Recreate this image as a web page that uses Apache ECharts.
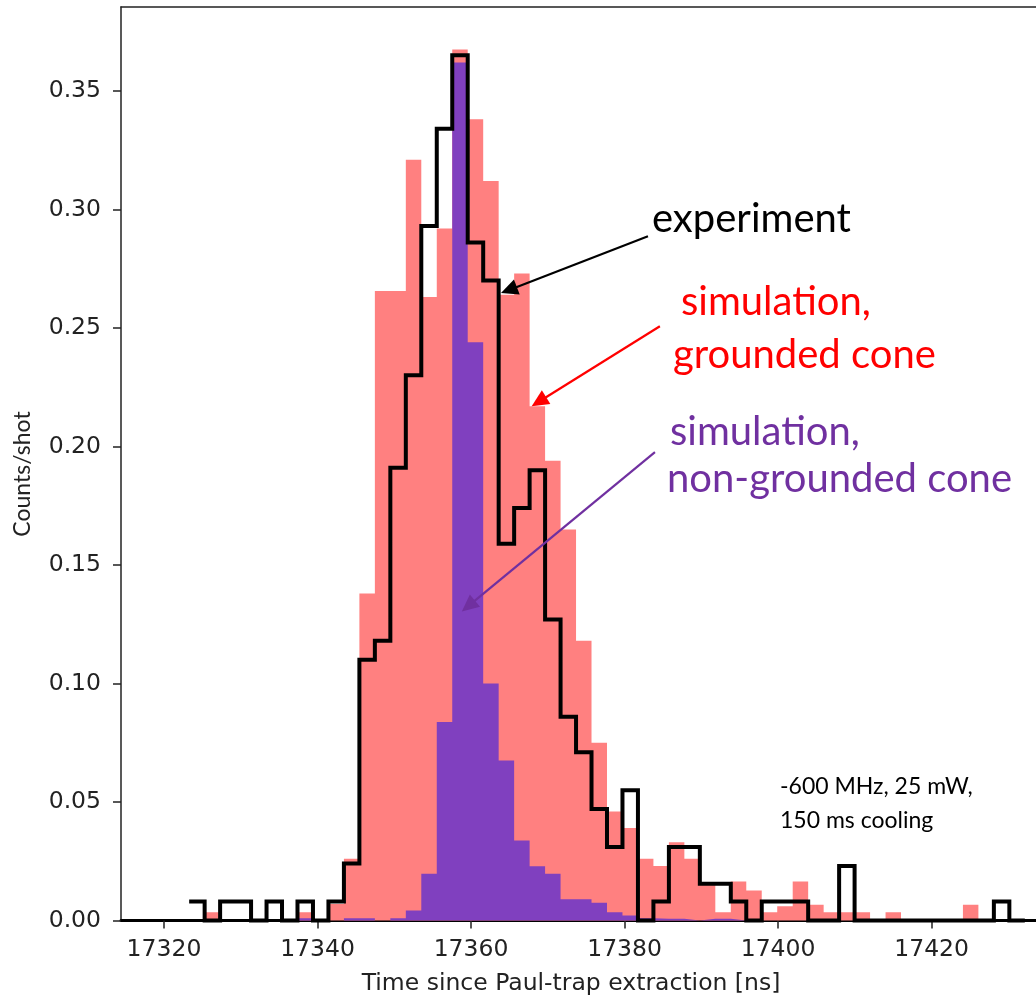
<!DOCTYPE html>
<html>
<head>
<meta charset="utf-8">
<script src="https://cdn.jsdelivr.net/npm/echarts@6/dist/echarts.min.js"></script>
<style>
  html, body { margin: 0; padding: 0; background: #fff; }
  #chart { width: 1036px; height: 998px; }
</style>
</head>
<body>
<div id="chart"></div>
<script>
// Histogram binning (ns): first bin edge and bin width
const BIN_START = 17323.28;
const BIN_WIDTH = 2.016;

// Measured counts per shot in each bin
const experiment = [
  0.008, 0, 0.008, 0.008, 0, 0.008, 0, 0.008, 0, 0.008,
  0.024, 0.110, 0.118, 0.191, 0.230, 0.293, 0.334, 0.365, 0.286, 0.270,
  0.159, 0.174, 0.190, 0.127, 0.086, 0.071, 0.047, 0.031, 0.055, 0,
  0.008, 0.031, 0.031, 0.0155, 0.0155, 0.008, 0, 0.008, 0.008, 0.008,
  0, 0, 0.023, 0, 0, 0, 0, 0, 0, 0,
  0, 0, 0.008, 0
];

// Simulation, grounded cone
const simGrounded = [
  0, 0.0035, 0, 0, 0, 0, 0, 0.0035, 0, 0.007,
  0.026, 0.138, 0.2656, 0.2656, 0.321, 0.263, 0.292, 0.3675, 0.338, 0.312,
  0.264, 0.273, 0.217, 0.194, 0.165, 0.118, 0.075, 0.046, 0.039, 0.026,
  0.023, 0.033, 0.026, 0.016, 0.0035, 0.0165, 0.0127, 0.0035, 0.006, 0.0165,
  0.0066, 0.0035, 0.0035, 0.0035, 0, 0.0035, 0, 0, 0, 0,
  0.0066, 0, 0, 0
];

// Simulation, non-grounded cone
const simNonGrounded = [
  0, 0, 0, 0, 0, 0, 0, 0.001, 0, 0,
  0.001, 0.001, 0, 0.001, 0.0042, 0.0197, 0.0837, 0.362, 0.244, 0.100,
  0.0675, 0.0338, 0.0229, 0.0197, 0.009, 0.009, 0.0075, 0.0035, 0.0021, 0.001,
  0.0007, 0.0007, 0, 0.0007, 0.0007, 0, 0, 0, 0, 0,
  0, 0, 0, 0, 0, 0, 0, 0, 0, 0,
  0, 0, 0, 0
];

// Axis ticks
const xTicks = [17320, 17340, 17360, 17380, 17400, 17420];
const yTicks = [0, 0.05, 0.10, 0.15, 0.20, 0.25, 0.30, 0.35];

// Visible axis extents (the plot runs on past the right edge of the page)
const X_MIN = 17314.4;
const X_MAX = 17433.6;
const Y_MAX = 0.3854;

// Annotation arrows, in data coordinates [ns, counts/shot]
const arrows = [
  { from: [17383.05, 0.2887], to: [17363.9, 0.2647], color: '#000000' },
  { from: [17384.6, 0.2507], to: [17367.9, 0.2170], color: '#FF0000' },
  { from: [17383.96, 0.1976], to: [17358.8, 0.1304], color: '#7030A0' }
];

const TICK_FONT = 'DejaVu Sans';
const NOTE_FONT = 'Lato';

// Turn per-bin values into step-line points at the bin edges
function stepData(values) {
  const pts = values.map((v, i) => [BIN_START + i * BIN_WIDTH, v]);
  pts.push([BIN_START + values.length * BIN_WIDTH, values[values.length - 1]]);
  return pts;
}

const chart = echarts.init(document.getElementById('chart'), null, { renderer: 'canvas' });

const tickLabel = {
  fontFamily: TICK_FONT, fontSize: 23.5, color: '#222'
};

const option = {
  animation: false,
  backgroundColor: '#ffffff',
  grid: { left: 121, top: 7, right: 0, bottom: 77.5 },
  xAxis: [
    {
      type: 'value', position: 'bottom',
      min: X_MIN, max: X_MAX,
      axisLine: { lineStyle: { color: '#000', width: 3 } },
      axisTick: { customValues: xTicks, length: 8, lineStyle: { color: '#222', width: 1.5 } },
      axisLabel: Object.assign({ customValues: xTicks, margin: 17, formatter: v => String(v) }, tickLabel),
      splitLine: { show: false }
    },
    {
      // top frame line
      type: 'value', position: 'top',
      min: X_MIN, max: X_MAX,
      axisLine: { show: true, lineStyle: { color: '#222', width: 1.5 } },
      axisTick: { show: false },
      axisLabel: { show: false },
      splitLine: { show: false }
    }
  ],
  yAxis: {
    type: 'value',
    min: 0, max: Y_MAX,
    axisLine: { show: true, lineStyle: { color: '#222', width: 1.5 } },
    axisTick: { show: true, customValues: yTicks, length: 8, lineStyle: { color: '#222', width: 1.5 } },
    axisLabel: Object.assign({ customValues: yTicks, margin: 20, formatter: v => v.toFixed(2) }, tickLabel),
    splitLine: { show: false }
  },
  series: [
    {
      name: 'simulation, grounded cone',
      type: 'line', step: 'end', data: stepData(simGrounded),
      symbol: 'none', z: 1, silent: true,
      lineStyle: { opacity: 0 },
      areaStyle: { color: '#FF8080', opacity: 1 }
    },
    {
      name: 'simulation, non-grounded cone',
      type: 'line', step: 'end', data: stepData(simNonGrounded),
      symbol: 'none', z: 2, silent: true,
      lineStyle: { opacity: 0 },
      areaStyle: { color: '#8040BF', opacity: 1 }
    },
    {
      name: 'experiment',
      type: 'line', step: 'end', data: stepData(experiment),
      symbol: 'none', z: 3, silent: true, clip: false,
      lineStyle: { color: '#000', width: 4, join: 'miter', cap: 'butt' }
    }
  ]
};

chart.setOption(option);

// Arrows: line plus triangular head, placed through the grid's coordinate system
function arrowGraphics(a) {
  const p0 = chart.convertToPixel({ gridIndex: 0 }, a.from);
  const p1 = chart.convertToPixel({ gridIndex: 0 }, a.to);
  const dx = p1[0] - p0[0], dy = p1[1] - p0[1];
  const len = Math.hypot(dx, dy);
  const ux = dx / len, uy = dy / len;
  const headLen = 17, headHalf = 8;
  const bx = p1[0] - ux * headLen, by = p1[1] - uy * headLen;
  return [
    {
      type: 'line', silent: true, z: 100,
      shape: { x1: p0[0], y1: p0[1], x2: bx + ux * 2, y2: by + uy * 2 },
      style: { stroke: a.color, lineWidth: 2.2 }
    },
    {
      type: 'polygon', silent: true, z: 100,
      shape: { points: [
        [p1[0], p1[1]],
        [bx - uy * headHalf, by + ux * headHalf],
        [bx + uy * headHalf, by - ux * headHalf]
      ] },
      style: { fill: a.color }
    }
  ];
}

const notes = [
  { text: 'experiment', x: 652, y: 219, color: '#000000', size: 40 },
  { text: 'simulation,', x: 681, y: 302, color: '#FF0000', size: 40 },
  { text: 'grounded cone', x: 673, y: 355, color: '#FF0000', size: 40 },
  { text: 'simulation,', x: 670, y: 432, color: '#7030A0', size: 40 },
  { text: 'non-grounded cone', x: 667, y: 479, color: '#7030A0', size: 40 },
  { text: '-600 MHz, 25 mW,', x: 780, y: 787, color: '#000000', size: 23 },
  { text: '150 ms cooling', x: 780, y: 821, color: '#000000', size: 23 }
];

const graphics = [];
arrows.forEach(a => graphics.push(...arrowGraphics(a)));
notes.forEach(n => graphics.push({
  type: 'text', silent: true, z: 100, x: n.x, y: n.y,
  style: {
    text: n.text, fill: n.color, font: n.size + 'px ' + NOTE_FONT,
    textAlign: 'left', textVerticalAlign: 'middle'
  }
}));
// Axis titles
graphics.push({
  type: 'text', silent: true, z: 100, x: 571, y: 984,
  style: {
    text: 'Time since Paul-trap extraction [ns]', fill: '#222',
    font: '23.5px ' + TICK_FONT, textAlign: 'center', textVerticalAlign: 'middle'
  }
});
graphics.push({
  type: 'text', silent: true, z: 100, x: 23, y: 474, rotation: Math.PI / 2,
  style: {
    text: 'Counts/shot', fill: '#222',
    font: '23px ' + NOTE_FONT, textAlign: 'center', textVerticalAlign: 'middle'
  }
});

chart.setOption({ graphic: graphics });
</script>
</body>
</html>
